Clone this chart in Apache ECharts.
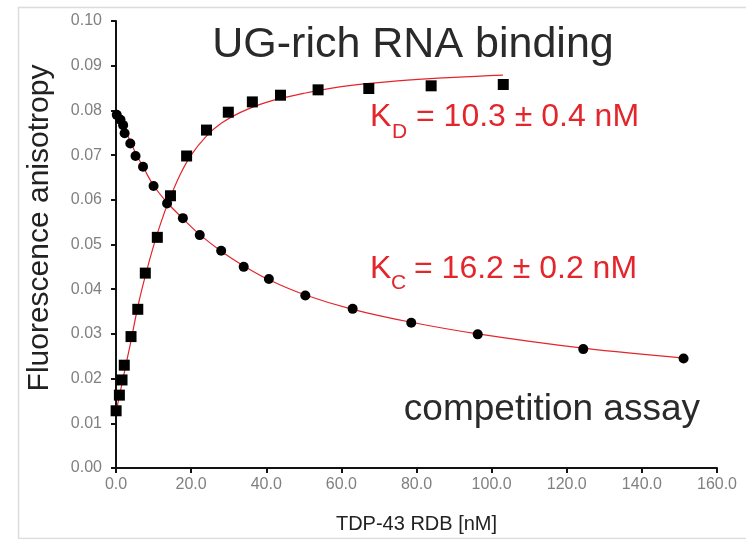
<!DOCTYPE html>
<html>
<head>
<meta charset="utf-8">
<script src="https://cdn.jsdelivr.net/npm/echarts@6/dist/echarts.min.js"></script>
<style>
html,body{margin:0;padding:0;background:#fff;}
#chart{width:746px;height:539px;}
</style>
</head>
<body>
<div id="chart"></div>
<script>
// ---- data ----
var bindConc  = [0.03, 0.9, 1.6, 2.2, 4.0, 5.8, 7.8, 11.0, 14.5, 18.8, 24.1, 29.9, 36.3, 43.8, 53.8, 67.3, 83.9, 103.1];
var bindAniso = [0.0128, 0.0163, 0.0197, 0.0230, 0.0294, 0.0355, 0.0436, 0.0516, 0.0609, 0.0698, 0.0756, 0.0796, 0.0819, 0.0834, 0.0846, 0.0849, 0.0855, 0.0858];

var compConc  = [0.2, 1.2, 1.9, 2.3, 3.8, 5.2, 7.2, 10.0, 13.6, 17.8, 22.3, 28.0, 34.0, 40.7, 50.4, 63.0, 78.6, 96.3, 124.4, 151.1];
var compAniso = [0.0790, 0.0779, 0.0767, 0.0749, 0.0726, 0.0698, 0.0674, 0.0631, 0.0592, 0.0559, 0.0521, 0.0486, 0.0450, 0.0423, 0.0386, 0.0356, 0.0325, 0.0299, 0.0266, 0.0245];

// fitted curves as traced on the picture
var bindFitConc  = [0, 1, 2, 3, 4, 6, 8, 10, 12, 14, 17, 20, 24, 28, 33, 40, 50, 60, 75, 90, 103];
var bindFitAniso = [0.0125, 0.0165, 0.0205, 0.0245, 0.0285, 0.0368, 0.0436, 0.0497, 0.0550, 0.0596, 0.0655, 0.0700, 0.0742, 0.0771, 0.0795, 0.0818, 0.0838, 0.0853, 0.0866, 0.0874, 0.0879];
var compFitConc  = [0, 1, 2, 3, 4, 5.5, 7.5, 10, 13.6, 17.8, 22.3, 28, 34, 40.7, 50.4, 63, 78.6, 96.3, 124.4, 151.1];
var compFitAniso = [0.0792, 0.0780, 0.0765, 0.0746, 0.0727, 0.0700, 0.0669, 0.0632, 0.0594, 0.0558, 0.0522, 0.0485, 0.0452, 0.0421, 0.0387, 0.0355, 0.0326, 0.0300, 0.0268, 0.0246];

// axes
var xMin = 0, xMax = 160, xStep = 20;
var yMin = 0, yMax = 0.10, yStep = 0.01;

var titleText = 'UG-rich RNA binding';
var bottomText = 'competition assay';
var xTitle = 'TDP-43 RDB [nM]';
var yTitle = 'Fluorescence anisotropy';
var kdMain = 'K', kdSub = 'D', kdRest = '= 10.3 \u00b1 0.4 nM';
var kcMain = 'K', kcSub = 'C', kcRest = '= 16.2 \u00b1 0.2 nM';

function pairs(a, b) { return a.map(function (v, i) { return [v, b[i]]; }); }

var FONT = '"Liberation Sans", Arial, Helvetica, sans-serif';
var RED = '#e3262c';

var chart = echarts.init(document.getElementById('chart'), null, {renderer: 'canvas'});
chart.setOption({
  backgroundColor: '#ffffff',
  animation: false,
  grid: {left: 116, right: 29, top: 21, bottom: 70, containLabel: false},
  xAxis: {
    type: 'value', min: xMin, max: xMax, interval: xStep,
    name: xTitle, nameLocation: 'middle', nameGap: 46,
    nameTextStyle: {fontFamily: FONT, fontSize: 20, color: '#222'},
    axisLine: {show: true, onZero: false, lineStyle: {color: '#111', width: 2}},
    axisTick: {show: true, inside: false, length: 5, lineStyle: {color: '#111', width: 2}},
    axisLabel: {fontFamily: FONT, fontSize: 16, color: '#808080', margin: 9,
      formatter: function (v) { return v.toFixed(1); }},
    splitLine: {show: false}
  },
  yAxis: {
    type: 'value', min: yMin, max: yMax, interval: yStep,
    axisLine: {show: true, onZero: false, lineStyle: {color: '#111', width: 2}},
    axisTick: {show: true, inside: false, length: 5, lineStyle: {color: '#111', width: 2}},
    axisLabel: {fontFamily: FONT, fontSize: 16, color: '#808080', margin: 14,
      formatter: function (v) { return v.toFixed(2); }},
    splitLine: {show: false}
  },
  series: [
    {type: 'line', data: pairs(bindFitConc, bindFitAniso), smooth: 0.4, showSymbol: false,
      lineStyle: {color: RED, width: 1.2}, z: 2, silent: true},
    {type: 'line', data: pairs(compFitConc, compFitAniso), smooth: 0.4, showSymbol: false,
      lineStyle: {color: RED, width: 1.2}, z: 2, silent: true},
    {type: 'scatter', data: pairs(bindConc, bindAniso), symbol: 'rect', symbolSize: 11,
      itemStyle: {color: '#000', opacity: 1}, z: 3},
    {type: 'scatter', data: pairs(compConc, compAniso), symbol: 'circle', symbolSize: 10,
      itemStyle: {color: '#000', opacity: 1}, z: 3}
  ],
  graphic: [
    {type: 'rect', left: 16, top: 5, shape: {x: 0, y: 0, width: 760, height: 531},
      style: {fill: 'none', stroke: '#dcdcdc', lineWidth: 1.5}, z: -10, silent: true},
    {type: 'text', x: 40, y: 228, rotation: Math.PI / 2,
      style: {text: yTitle, font: '30px ' + FONT, fill: '#222', align: 'center', verticalAlign: 'middle'}},
    {type: 'text', x: 413, y: 45,
      style: {text: titleText, font: '43px ' + FONT, fill: '#2a2a2a', align: 'center', verticalAlign: 'middle'}},
    {type: 'text', x: 700, y: 410,
      style: {text: bottomText, font: '37px ' + FONT, fill: '#2a2a2a', align: 'right', verticalAlign: 'middle'}},
    {type: 'text', x: 370, y: 117,
      style: {text: kdMain, font: '32px ' + FONT, fill: RED, align: 'left', verticalAlign: 'middle'}},
    {type: 'text', x: 392, y: 132,
      style: {text: kdSub, font: '21px ' + FONT, fill: RED, align: 'left', verticalAlign: 'middle'}},
    {type: 'text', x: 416, y: 117,
      style: {text: kdRest, font: '32px ' + FONT, fill: RED, align: 'left', verticalAlign: 'middle'}},
    {type: 'text', x: 370, y: 269,
      style: {text: kcMain, font: '32px ' + FONT, fill: RED, align: 'left', verticalAlign: 'middle'}},
    {type: 'text', x: 391, y: 283,
      style: {text: kcSub, font: '21px ' + FONT, fill: RED, align: 'left', verticalAlign: 'middle'}},
    {type: 'text', x: 414, y: 269,
      style: {text: kcRest, font: '32px ' + FONT, fill: RED, align: 'left', verticalAlign: 'middle'}}
  ]
});
</script>
</body>
</html>
